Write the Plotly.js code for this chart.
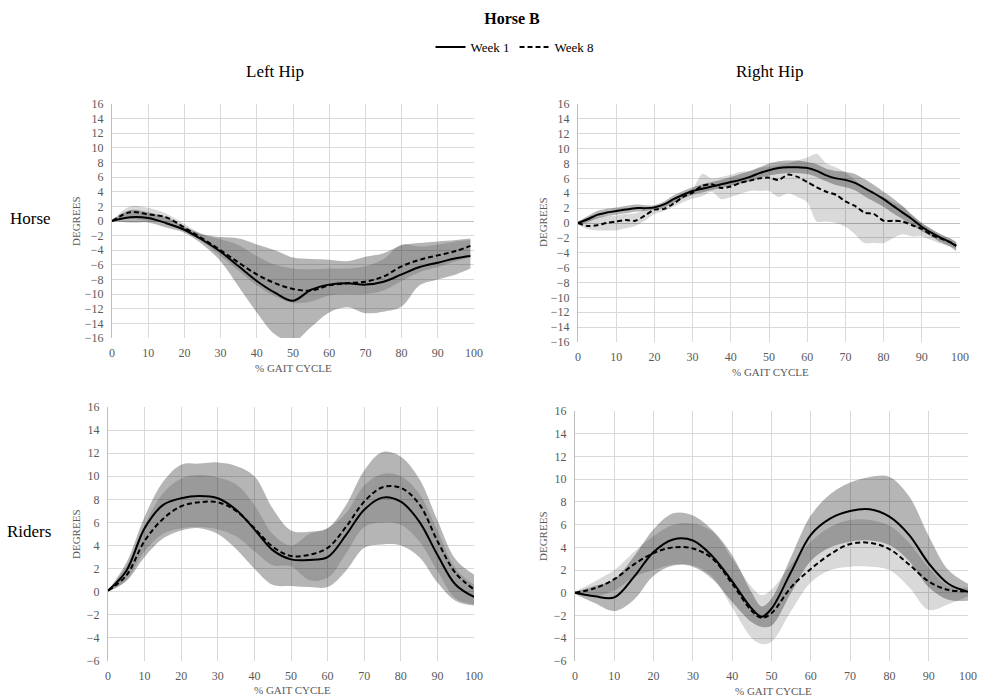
<!DOCTYPE html>
<html>
<head>
<meta charset="utf-8">
<script src="https://cdn.plot.ly/plotly-3.0.1.min.js"></script>
<style>html,body{margin:0;padding:0;background:#fff;}#chart{width:981px;height:698px;}</style>
</head>
<body>
<div id="chart"></div>
<script>
// ---------- Left Hip / Horse ----------
const pctLH = [0,5,10,15,20,25,30,35,40,45,50,55,60,65,70,75,80,85,90,95,99];
const lhW1   = [0,0.5,0.4,-0.3,-1.2,-2.6,-4.2,-6.2,-8.2,-9.8,-10.9,-9.4,-8.7,-8.5,-8.7,-8.3,-7.3,-6.3,-5.7,-5.1,-4.8];
const lhW1Hi = [0,1.5,1.2,0.5,-0.8,-1.8,-2.2,-2.4,-3.2,-4.0,-5.0,-5.2,-5.3,-5.5,-4.9,-4.4,-3.3,-3.0,-2.8,-2.6,-2.4];
const lhW1Lo = [0,-0.2,-0.2,-0.9,-1.6,-3.2,-5.5,-9.0,-12.5,-15.5,-16.5,-14.5,-12.5,-11.8,-12.6,-12.4,-11.7,-8.8,-8.0,-7.3,-6.5];
const lhW8   = [0,1.2,0.9,0.5,-0.9,-2.4,-4.0,-5.7,-7.3,-8.5,-9.3,-9.5,-8.8,-8.5,-8.3,-7.6,-6.2,-5.3,-4.7,-4.1,-3.4];
const lhW8Hi = [0,2.0,1.8,1.0,-0.4,-1.8,-2.5,-3.3,-4.8,-6.0,-6.5,-6.6,-6.5,-6.5,-6.2,-5.2,-3.2,-3.5,-3.2,-2.8,-2.6];
const lhW8Lo = [0,0.3,0,-0.3,-1.4,-2.8,-4.8,-6.8,-8.8,-10.3,-11.2,-11.0,-10.2,-10.0,-10.0,-9.5,-8.2,-7.0,-6.3,-5.5,-5.0];

// ---------- Right Hip / Horse ----------
const pctRH = [0,2.5,5,7.5,10,12.5,15,17.5,20,22.5,25,27.5,30,32.5,35,37.5,40,42.5,45,47.5,50,52.5,55,57.5,60,62.5,65,67.5,70,72.5,75,77.5,80,82.5,85,87.5,90,92.5,95,97.5,99];
const rhW1   = [0,0.5,1.1,1.4,1.6,1.8,2.0,2.0,2.1,2.5,3.2,3.8,4.3,4.6,4.9,5.2,5.5,5.8,6.2,6.7,7.1,7.4,7.5,7.5,7.4,7.0,6.4,6.0,5.8,5.4,4.7,4.0,3.2,2.3,1.4,0.5,-0.5,-1.3,-2.0,-2.6,-3.1];
const rhW1Hi = [0.2,0.9,1.6,1.9,2.1,2.3,2.5,2.4,2.4,2.9,3.7,4.3,4.8,5.2,5.5,5.8,6.2,6.6,7.0,7.5,8.0,8.3,8.4,8.4,8.2,7.9,7.3,7.0,6.9,6.6,5.9,5.1,4.2,3.3,2.3,1.1,0.0,-0.8,-1.5,-2.1,-2.6];
const rhW1Lo = [-0.2,0.1,0.6,0.9,1.1,1.3,1.5,1.6,1.8,2.1,2.7,3.3,3.8,4.1,4.4,4.7,5.0,5.3,5.6,6.0,6.4,6.6,6.7,6.7,6.6,6.2,5.6,5.1,4.8,4.4,3.6,2.9,2.2,1.3,0.5,-0.3,-1.1,-1.8,-2.6,-3.2,-3.8];
const rhW8   = [0,-0.4,-0.3,0.0,0.2,0.4,0.3,1.0,1.8,1.9,2.6,3.5,4.1,5.0,5.2,4.7,4.9,5.4,5.7,6.0,6.1,5.8,6.5,6.2,5.5,4.8,4.2,3.8,2.9,2.3,1.4,1.2,0.3,0.3,0.2,-0.3,-0.8,-1.6,-2.1,-2.6,-3.0];
const rhW8Hi = [0.2,0.6,0.8,0.9,1.0,1.2,1.3,1.8,2.3,2.6,3.2,4.0,4.6,6.6,6.0,6.2,6.5,6.9,7.0,7.4,7.6,7.8,8.0,8.4,8.8,9.3,8.0,7.5,6.8,5.8,4.5,4.0,3.5,2.8,2.2,1.0,0.0,-0.8,-1.6,-2.1,-2.5];
const rhW8Lo = [-0.2,-0.8,-1.0,-1.0,-1.0,-0.7,-0.4,0.3,1.2,1.6,2.2,2.8,3.3,3.6,4.2,3.2,3.5,3.9,4.3,4.3,4.3,3.5,4.0,3.5,2.8,0.2,0.2,0.0,-0.5,-1.5,-2.7,-2.7,-2.7,-2.0,-1.5,-1.8,-1.8,-2.3,-2.8,-3.2,-3.5];

// ---------- Left Hip / Riders ----------
const pctLR = [0,5,10,15,20,25,30,35,40,45,50,55,60,65,70,75,80,85,90,95,100];
const lrW1   = [0.1,1.8,5.5,7.5,8.1,8.3,8.1,7.1,5.4,3.6,2.8,2.75,3.0,4.9,7.1,8.15,7.8,6.1,3.2,0.6,-0.45];
const lrW1Hi = [0.1,2.5,6.5,9.5,11.0,11.1,11.2,10.9,10.0,7.2,5.3,5.2,5.5,7.5,10.5,12.1,11.7,9.8,6.2,2.8,1.5];
const lrW1Lo = [0,0.9,3.0,4.6,5.3,5.5,5.0,3.7,2.0,0.6,0.5,0.4,0.4,1.8,3.8,4.1,4.0,3.0,0.8,-0.8,-1.2];
const lrW8   = [0.1,1.4,4.4,6.3,7.4,7.75,7.75,7.0,5.5,3.9,3.1,3.2,3.8,5.6,7.8,9.05,9.0,7.6,4.4,1.6,0.2];
const lrW8Hi = [0.1,2.2,5.8,8.5,9.8,10.1,9.9,9.3,7.5,5.0,4.0,5.0,5.5,6.8,9.2,10.2,10.0,8.5,5.3,2.0,0.6];
const lrW8Lo = [0,1.0,3.5,5.0,5.5,5.6,5.4,4.8,3.5,2.3,2.2,1.0,1.2,3.3,5.6,6.0,5.8,4.4,1.8,-0.6,-1.1];

// ---------- Right Hip / Riders ----------
const pctRR = [0,5,10,15,20,25,30,35,40,45,47.5,50,55,60,65,70,75,80,85,90,95,100];
const rrW1   = [0,-0.3,-0.4,1.4,3.6,4.7,4.6,3.2,1.0,-1.4,-2.1,-1.4,1.85,5.1,6.55,7.2,7.35,6.7,5.1,2.6,0.8,0.1];
const rrW1Hi = [0.1,0.6,1.2,3.2,5.6,7.0,6.8,5.5,3.3,0.0,-1.2,-0.5,3.2,6.8,8.7,9.7,10.2,10.2,8.5,5.0,2.0,0.8];
const rrW1Lo = [-0.1,-0.9,-1.6,-0.6,1.5,2.4,2.3,1.2,-0.8,-2.6,-3.0,-2.9,0.0,2.8,4.0,4.5,4.6,4.2,2.8,0.5,-0.6,-0.7];
const rrW8   = [0,0.4,1.2,2.5,3.5,4.0,3.9,3.0,0.8,-1.6,-2.2,-1.8,0.5,2.1,3.4,4.3,4.4,3.85,2.5,1.0,0.25,0.15];
const rrW8Hi = [0.1,1.0,2.0,3.6,5.0,6.0,6.1,5.4,3.0,0.5,-0.2,0.3,2.5,4.5,5.8,6.4,6.4,5.9,4.4,2.2,0.6,0.5];
const rrW8Lo = [-0.1,-0.3,0.2,1.4,2.0,2.5,2.4,1.4,-1.3,-4.0,-4.5,-4.3,-1.6,0.9,2.0,2.3,2.3,2.0,0.5,-1.5,-1.0,-0.3];

// ---------- Labels ----------
const seriesNames = ['Week 1', 'Week 8'];
const chartTitle = 'Horse B';
const columnTitles = ['Left Hip', 'Right Hip'];
const rowTitles = ['Horse', 'Riders'];
const yAxisTitle = 'DEGREES';
const xAxisTitle = '% GAIT CYCLE';

const FONT = '"Liberation Serif", "Times New Roman", serif';
const BAND1 = 'rgba(0,0,0,0.29)';
const BAND8 = 'rgba(0,0,0,0.15)';

function panel(xs, w1, w1hi, w1lo, w8, w8hi, w8lo, xa, ya, legend, smooth) {
  const base = {x: xs, xaxis: xa, yaxis: ya, mode: 'lines', hoverinfo: 'skip'};
  const sm = smooth;
  return [
    Object.assign({}, base, {y: w1hi, line: {width: 0, shape: 'spline', smoothing: sm}, showlegend: false}),
    Object.assign({}, base, {y: w1lo, line: {width: 0, shape: 'spline', smoothing: sm}, fill: 'tonexty', fillcolor: BAND1, showlegend: false}),
    Object.assign({}, base, {y: w8hi, line: {width: 0, shape: 'spline', smoothing: sm}, showlegend: false}),
    Object.assign({}, base, {y: w8lo, line: {width: 0, shape: 'spline', smoothing: sm}, fill: 'tonexty', fillcolor: BAND8, showlegend: false}),
    Object.assign({}, base, {y: w1, name: seriesNames[0], line: {color: '#000', width: 2, shape: 'spline', smoothing: sm}, showlegend: legend, legendgroup: 'w1'}),
    Object.assign({}, base, {y: w8, name: seriesNames[1], line: {color: '#000', width: 2, dash: '5px,3px', shape: 'spline', smoothing: sm}, showlegend: legend, legendgroup: 'w8'})
  ];
}

const data = [].concat(
  panel(pctLH, lhW1, lhW1Hi, lhW1Lo, lhW8, lhW8Hi, lhW8Lo, 'x', 'y', true, 1),
  panel(pctRH, rhW1, rhW1Hi, rhW1Lo, rhW8, rhW8Hi, rhW8Lo, 'x2', 'y2', false, 0.8),
  panel(pctLR, lrW1, lrW1Hi, lrW1Lo, lrW8, lrW8Hi, lrW8Lo, 'x3', 'y3', false, 1),
  panel(pctRR, rrW1, rrW1Hi, rrW1Lo, rrW8, rrW8Hi, rrW8Lo, 'x4', 'y4', false, 1)
);

const W = 981, H = 698;
function dx(a, b) { return [a / W, b / W]; }
function dy(top, bottom) { return [1 - bottom / H, 1 - top / H]; }

function xax(dom, anchor) {
  return {domain: dom, anchor: anchor, range: [0, 100], dtick: 10, tick0: 0,
    showgrid: true, gridcolor: '#d9d9d9', gridwidth: 1, zeroline: false,
    showline: false, ticks: '', ticklabelstandoff: 6,
    tickfont: {family: FONT, size: 12, color: '#595959'}, fixedrange: true};
}
function yax(dom, anchor, r, zl) {
  return {domain: dom, anchor: anchor, range: r, dtick: 2, tick0: 0,
    showgrid: true, gridcolor: '#d9d9d9', gridwidth: 1,
    zeroline: zl, zerolinecolor: '#bfbfbf', zerolinewidth: 1,
    showline: true, linecolor: '#bfbfbf', linewidth: 1, ticks: '', ticklabelstandoff: 5,
    tickfont: {family: FONT, size: 12, color: '#595959'}, fixedrange: true};
}

const ann = [];
function txt(x, y, t, size, color, angle) {
  ann.push({xref: 'paper', yref: 'paper', x: x / W, y: 1 - y / H, text: t, showarrow: false,
    xanchor: 'center', yanchor: 'middle', textangle: angle || 0,
    font: {family: FONT, size: size, color: color}});
}
txt(275, 71, columnTitles[0], 17, '#000');
txt(770, 71, columnTitles[1], 17, '#000');
txt(30, 218, rowTitles[0], 17, '#000');
txt(29, 531, rowTitles[1], 17, '#000');
txt(76, 221, yAxisTitle, 11, '#595959', -90);
txt(543, 222, yAxisTitle, 11, '#595959', -90);
txt(76, 534, yAxisTitle, 11, '#595959', -90);
txt(543, 536, yAxisTitle, 11, '#595959', -90);
txt(293, 368, xAxisTitle, 11, '#595959');
txt(770, 372, xAxisTitle, 11, '#595959');
txt(292, 690, xAxisTitle, 11, '#595959');
txt(773, 691, xAxisTitle, 11, '#595959');

const layout = {
  width: W, height: H,
  margin: {l: 0, r: 0, t: 0, b: 0},
  paper_bgcolor: '#fff', plot_bgcolor: '#fff',
  font: {family: FONT, color: '#000'},
  title: {text: '<b>' + chartTitle + '</b>', x: 512 / W, xanchor: 'center', y: 1 - 18 / H, yanchor: 'middle',
    font: {family: FONT, size: 16, color: '#000'}},
  showlegend: true,
  legend: {orientation: 'h', x: 515 / W, xanchor: 'center', y: 1 - 47 / H, yanchor: 'middle',
    font: {family: FONT, size: 13, color: '#000'}, bgcolor: 'rgba(0,0,0,0)', traceorder: 'normal'},
  xaxis: xax(dx(112, 474), 'y'),
  yaxis: yax(dy(104, 338), 'x', [-16, 16], true),
  xaxis2: xax(dx(578, 960), 'y2'),
  yaxis2: yax(dy(104, 342), 'x2', [-16, 16], true),
  xaxis3: xax(dx(108, 474), 'y3'),
  yaxis3: yax(dy(407, 661), 'x3', [-6, 16], false),
  xaxis4: xax(dx(575, 968), 'y4'),
  yaxis4: yax(dy(411, 661), 'x4', [-6, 16], false),
  annotations: ann
};

Plotly.newPlot('chart', data, layout, {staticPlot: true, displayModeBar: false});
</script>
</body>
</html>
